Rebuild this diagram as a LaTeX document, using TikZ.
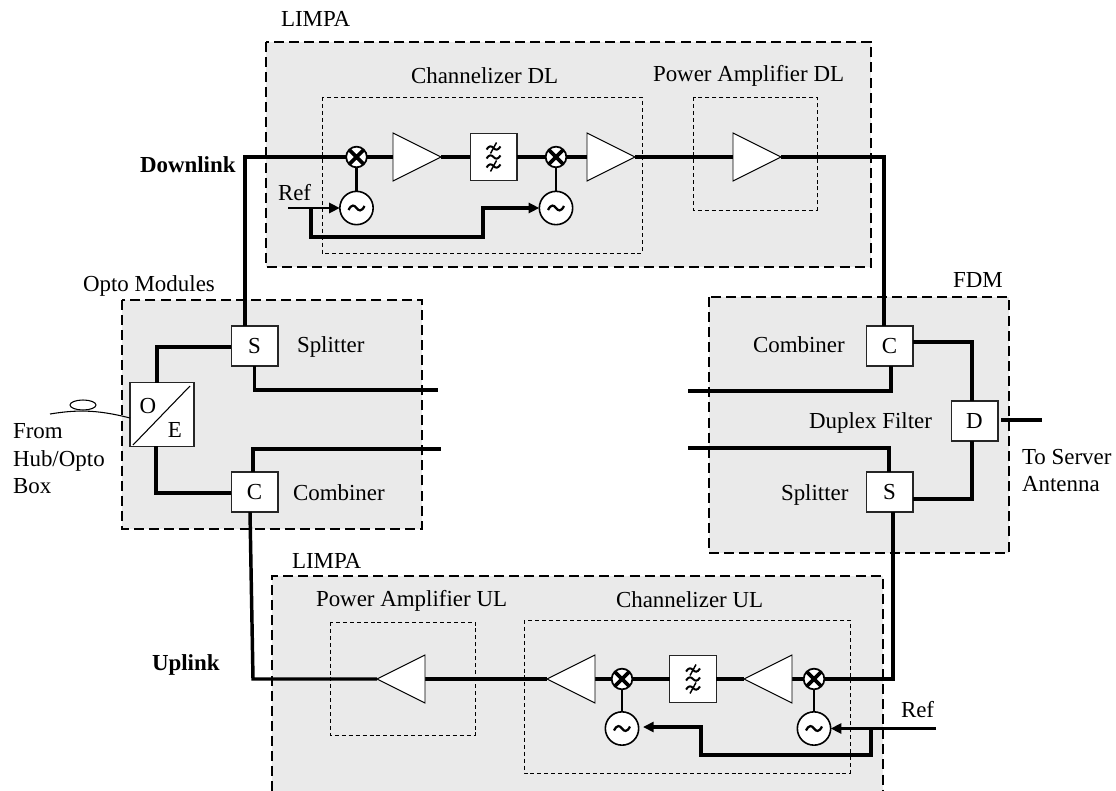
\documentclass[tikz,border=0pt]{standalone}
\usepackage{fontspec}
\setmainfont{Liberation Serif}
\usetikzlibrary{arrows.meta}
\definecolor{panel}{HTML}{EAEAEA}
\tikzset{
  x=0.75pt,y=-0.75pt,
  every node/.style={font=\fontsize{17.2}{20}\selectfont,inner sep=0pt,outer sep=0pt},
  boldlabel/.style={anchor=base west,font=\fontsize{17.2}{20}\selectfont\bfseries},
  label text/.style={anchor=base west},
  outerline/.style={draw=black,line width=1.9pt,dash pattern=on 7.5pt off 3.8pt},
  outerbox/.style={outerline,fill=panel},
  innerbox/.style={draw=black,line width=0.6pt,dash pattern=on 3pt off 2.2pt},
  wire/.style={draw=black,line width=2.6pt,line join=miter},
  arrowwire/.style={wire,-{Triangle[length=8pt,width=7.5pt]}},
  squarebox/.style={draw=black!85,fill=white,line width=0.8pt,minimum width=35.2pt,minimum height=30pt,anchor=center},
  filterbox/.style={squarebox,minimum height=35.2pt},
  oscnode/.style={draw=black,fill=white,circle,line width=1.2pt,minimum size=25pt},
  mixnode/.style={circle,fill=white,draw=black,line width=1.3pt,minimum size=15.5pt},
  tri/.style={draw=black,fill=white,line width=0.7pt},
  thinline/.style={draw=black,line width=0.8pt},
}
\newcommand{\ampl}[4]{%
  \path[tri] (#2,#4-24) -- (#3,#4) -- (#2,#4+24) -- cycle;}
\newcommand{\mixer}[3]{%
  \node[mixnode] (#1) at (#2,#3) {};
  \draw[line width=2.7pt] (#2-7,#3-7) -- (#2+7,#3+7) (#2-7,#3+7) -- (#2+7,#3-7);}
\newcommand{\osc}[3]{%
  \node[oscnode] (#1) at (#2,#3) {};
  \draw[line width=1.7pt] (#2-8,#3+2) .. controls (#2-5,#3-4) and (#2-2,#3-3) .. (#2,#3) .. controls (#2+2,#3+3) and (#2+5,#3+4) .. (#2+8,#3-2);}
\newcommand{\tildemark}[3]{%
  \draw[line width=1.5pt] (#1-7,#2+1.5) .. controls (#1-4,#2-3) and (#1-2,#2-2) .. (#1,#2) .. controls (#1+2,#2+2) and (#1+4,#2+3) .. (#1+7,#2-1.5);
  \ifnum#3=1 \draw[line width=1.1pt] (#1-3,#2+5.5) -- (#1+3,#2-5.5);\fi}
\newcommand{\filtermark}[2]{%
  \tildemark{#1}{#2-9}{1}\tildemark{#1}{#2}{0}\tildemark{#1}{#2+9}{1}}
\begin{document}
\begin{tikzpicture}
\useasboundingbox (0,0) rectangle (1116,791);
\clip (0,0) rectangle (1116,791);
% panels
\path[outerbox] (266,42) rectangle (871,267);
\path[outerbox] (122,300) rectangle (422,529);
\path[outerbox] (709,297) rectangle (1009,553);
\fill[panel] (272,576) rectangle (883,791);
\path[outerline] (272,791) -- (272,576) -- (883,576) -- (883,791);
\path[innerbox] (322,97) rectangle (642,253);
\path[innerbox] (693,97) rectangle (817,210);
\path[innerbox] (330,622) rectangle (475,735);
\path[innerbox] (524,620) rectangle (850,773);
% blocks
\node[squarebox] (optoS) at (254.5,346) {S};
\node[squarebox] (optoC) at (254.5,492) {C};
\node[squarebox] (fdmC) at (889.5,346) {C};
\node[squarebox] (fdmS) at (889.5,492) {S};
\node[squarebox] (fdmD) at (974.5,421) {D};
\node[draw=black!85,fill=white,line width=0.8pt,minimum width=48pt,minimum height=47.5pt] (oe) at (162,414.5) {};
\node[filterbox] (filtD) at (493.5,157) {};
\node[filterbox] (filtU) at (693,679) {};
% named free ends
\coordinate (dlLeft) at (245,157);
\coordinate (dlRight) at (884,157);
\coordinate (ulLeft) at (253,679);
\coordinate (ulRight) at (893,679);
\coordinate (sL) at (157,347);
\coordinate (cL) at (156,493);
\coordinate (optoOut) at (438,390);
\coordinate (optoIn) at (441,449);
\coordinate (fdmOut) at (688,391);
\coordinate (fdmIn) at (688,448);
\coordinate (antEnd) at (1042,420);
\coordinate (refD) at (288,208);
\coordinate (refU) at (936,728.5);
% wires
\draw[wire] (optoS.north -| dlLeft) -- (dlLeft) -- (357,157);
\draw[wire] (367,157) -- (393,157);
\draw[wire] (441,157) -- (filtD.west);
\draw[wire] (filtD.east) -- (545,157);
\draw[wire] (565,157) -- (587,157);
\draw[wire] (635,157) -- (733,157);
\draw[wire] (781,157) -- (dlRight) -- (dlRight |- fdmC.north);
\draw[wire] (optoS.west |- sL) -- (sL) -- (sL |- oe.north);
\draw[wire] (cL |- oe.south) -- (cL) -- (optoC.west |- cL);
\draw[wire] (optoS.south) |- (optoOut);
\draw[wire] (253,472) |- (optoIn);
\draw[wire] (250,512) -- (ulLeft) -- (377,679);
\draw[wire] (425,679) -- (547,679);
\draw[wire] (595,679) -- (612,679);
\draw[wire] (632,679) -- (filtU.west);
\draw[wire] (filtU.east) -- (744,679);
\draw[wire] (792,679) -- (804,679);
\draw[wire] (824,679) -- (ulRight) -- (ulRight |- fdmS.south);
\draw[wire] (fdmC.east |- 0,342) -| (972,401);
\draw[wire] (972,441) |- (fdmS.east |- 0,499);
\draw[wire] (891,366) |- (fdmOut);
\draw[wire] (889,472) |- (fdmIn);
\draw[wire] (1001,420) -- (antEnd);
% amps
\ampl{a1}{393}{441}{157}
\ampl{a2}{587}{635}{157}
\ampl{a3}{733}{781}{157}
\ampl{a4}{425}{377}{679}
\ampl{a5}{595}{547}{679}
\ampl{a6}{792}{744}{679}
% oscillators, mixers
\osc{o1}{356.5}{208}
\osc{o2}{556}{208}
\osc{o3}{622}{728.5}
\osc{o4}{814}{728.5}
\mixer{m1}{356.5}{157}
\mixer{m2}{556}{157}
\mixer{m3}{622}{679}
\mixer{m4}{814}{679}
\draw[wire,line width=2.2pt] (m1.south) -- (o1.north);
\draw[wire,line width=2.2pt] (m2.south) -- (o2.north);
\draw[wire,line width=2.2pt] (m3.south) -- (o3.north);
\draw[wire,line width=2.2pt] (m4.south) -- (o4.north);
\draw[arrowwire,line width=2pt] (refD) -- (o1.west);
\draw[arrowwire] (311,208) -- (311,237) -- (483,237) -- (483,208) -- (o2.west);
\draw[arrowwire,line width=2pt] (refU) -- (o4.east);
\draw[arrowwire] (871,728.5) -- (871,755) -- (701,755) -- (701,727) -- (643,727);
% filters
\filtermark{493.5}{157}
\filtermark{693}{679}
% OE
\draw[thinline] (133,445) -- (190,386);
\node at (148,406) {O};
\node at (175,430) {E};
% fibre
\draw[thinline] (50,414) .. controls (75,410) and (95,409) .. (130,418);
\draw[thinline] (83,405) ellipse [x radius=13,y radius=5];
% labels
\node[label text] at (281,27) {LIMPA};
\node[label text] at (411,84) {Channelizer DL};
\node[label text] at (653,82) {Power Amplifier DL};
\node[boldlabel] at (140,173) {Downlink};
\node[label text] at (278,201) {Ref};
\node[label text] at (83,292) {Opto Modules};
\node[label text] at (297,352) {Splitter};
\node[label text] at (293,500) {Combiner};
\node[label text] at (13,438) {From};
\node[label text] at (13,466) {Hub/Opto};
\node[label text] at (13,493) {Box};
\node[label text] at (953,288) {FDM};
\node[label text] at (753,352) {Combiner};
\node[label text] at (809,428) {Duplex Filter};
\node[label text] at (781,500) {Splitter};
\node[label text] at (1022,464) {To Server};
\node[label text] at (1022,491) {Antenna};
\node[label text] at (292,568) {LIMPA};
\node[label text] at (316,606) {Power Amplifier UL};
\node[label text] at (616,607) {Channelizer UL};
\node[boldlabel] at (152,670) {Uplink};
\node[label text] at (901,717) {Ref};
\end{tikzpicture}
\end{document}
